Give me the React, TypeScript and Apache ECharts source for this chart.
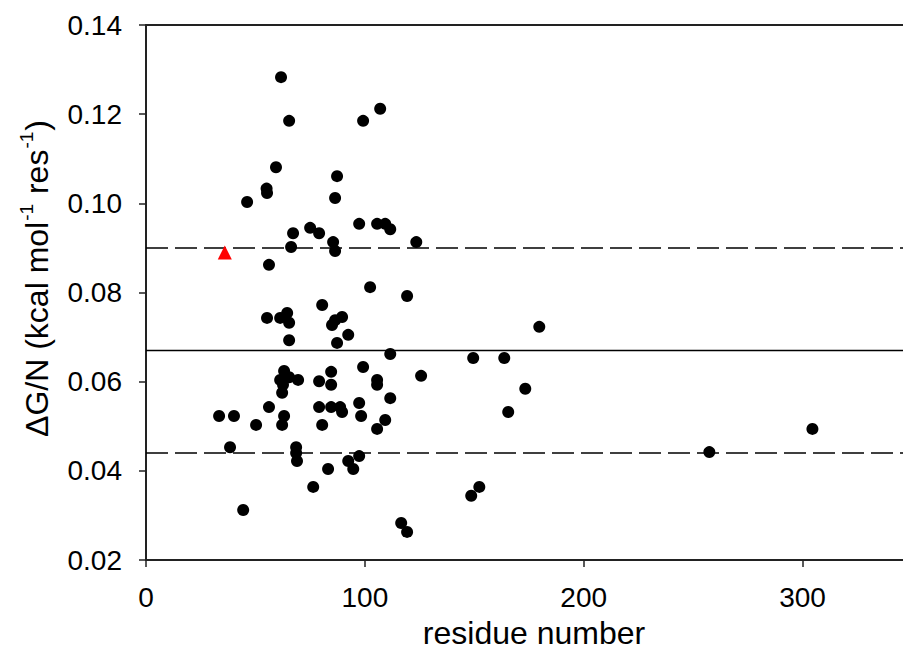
import React, { useEffect, useRef } from "react";
import * as echarts from "echarts";

const residues = [
  61.7, 65.4, 107.0, 99.2, 59.4, 55.1, 55.3, 46.2, 87.3, 86.4,
  97.4, 105.6, 109.3, 111.6, 75.0, 79.1, 67.2, 66.3, 85.5, 86.4,
  123.5, 56.2, 102.4, 119.3, 80.5, 55.3, 61.3, 64.5, 65.4, 89.6,
  86.4, 85.0, 92.4, 65.4, 87.3, 179.7, 111.6, 149.5, 163.7, 125.7,
  99.2, 63.1, 61.3, 65.4, 62.6, 69.5, 62.2, 79.1, 84.6, 84.6,
  105.6, 105.6, 111.6, 97.4, 98.3, 109.3, 105.6, 56.2, 33.4, 40.2,
  50.3, 63.1, 62.2, 79.1, 84.6, 88.7, 89.6, 80.5, 38.4, 68.6,
  68.6, 69.0, 92.4, 97.4, 94.7, 83.2, 76.4, 44.4, 116.6, 119.3,
  173.3, 165.5, 257.4, 304.5, 148.6, 152.3,
];
const dgn = [
  0.1283, 0.1185, 0.1212, 0.1185, 0.1081, 0.1033, 0.1023, 0.1003, 0.1061, 0.1012,
  0.0954, 0.0954, 0.0954, 0.0942, 0.0945, 0.0933, 0.0933, 0.0902, 0.0913, 0.0893,
  0.0913, 0.0862, 0.0812, 0.0792, 0.0772, 0.0743, 0.0743, 0.0754, 0.0732, 0.0745,
  0.0738, 0.0727, 0.0705, 0.0693, 0.0687, 0.0723, 0.0662, 0.0653, 0.0653, 0.0613,
  0.0633, 0.0624, 0.0604, 0.061, 0.0593, 0.0604, 0.0575, 0.0601, 0.0622, 0.0593,
  0.0604, 0.0593, 0.0563, 0.0552, 0.0523, 0.0514, 0.0494, 0.0543, 0.0523, 0.0523,
  0.0503, 0.0523, 0.0503, 0.0543, 0.0543, 0.0543, 0.0532, 0.0503, 0.0453, 0.0453,
  0.044, 0.0422, 0.0422, 0.0433, 0.0404, 0.0404, 0.0364, 0.0312, 0.0283, 0.0263,
  0.0584, 0.0532, 0.0442, 0.0494, 0.0344, 0.0364,
];
const highlightResidues = [36.0];
const highlightDgn = [0.089];
const meanLine = 0.067;
const boundLines = [0.09, 0.044];
const xTicks = [0, 100, 200, 300];
const yTicks = [0.02, 0.04, 0.06, 0.08, 0.1, 0.12, 0.14];

const FONT = "'Liberation Sans', Arial, sans-serif";

export default function App() {
  const ref = useRef<HTMLDivElement>(null);
  useEffect(() => {
    if (!ref.current) return;
    const chart = echarts.init(ref.current, undefined, { renderer: "svg" });
    const xMin = 0;
    const xMax = 350;
    const option: any = {
      animation: false,
      backgroundColor: "#ffffff",
      grid: {
        left: 146,
        top: 25,
        width: 766,
        height: 535,
        containLabel: false,
        outerBoundsMode: "none",
      },
      xAxis: [
        {
          type: "value",
          min: xMin,
          max: xMax,
          interval: 100,
          position: "bottom",
          axisLine: { show: true, lineStyle: { color: "#222", width: 2 } },
          axisTick: { show: true, inside: false, length: 7, lineStyle: { color: "#222", width: 1.5 } },
          axisLabel: {
            color: "#000",
            fontSize: 28,
            fontFamily: FONT,
            margin: 23,
            formatter: (v: number) => (xTicks.includes(v) ? String(v) : ""),
          },
          splitLine: { show: false },
          name: "residue number",
          nameLocation: "middle",
          nameGap: 56,
          nameTextStyle: {
            color: "#000",
            fontSize: 32,
            lineHeight: 34,
            fontFamily: FONT,
            padding: [0, 0, 0, 10],
          },
        },
        {
          type: "value",
          min: xMin,
          max: xMax,
          position: "top",
          axisLine: { show: true, onZero: false, lineStyle: { color: "#222", width: 2 } },
          axisTick: { show: false },
          axisLabel: { show: false },
          splitLine: { show: false },
        },
      ],
      yAxis: {
        type: "value",
        min: 0.02,
        max: 0.14,
        interval: 0.02,
        axisLine: { show: true, onZero: false, lineStyle: { color: "#222", width: 2 } },
        axisTick: { show: true, length: 7, lineStyle: { color: "#222", width: 1.5 } },
        axisLabel: {
          color: "#000",
          fontSize: 28,
          fontFamily: FONT,
          margin: 24,
          formatter: (v: number) => {
            const t = yTicks.find((y) => Math.abs(y - v) < 1e-9);
            return t !== undefined ? t.toFixed(2) : "";
          },
        },
        splitLine: { show: false },
        name: "{a|ΔG/N (kcal mol}{s|-1}{a| res}{s|-1}{a|)}",
        nameLocation: "middle",
        nameRotate: 90,
        nameGap: 93,
        nameTextStyle: {
          color: "#000",
          fontFamily: FONT,
          padding: [0, 0, 0, 28],
          rich: {
            a: { fontSize: 32, fontFamily: FONT, color: "#000", lineHeight: 36, verticalAlign: "bottom" },
            s: { fontSize: 19, fontFamily: FONT, color: "#000", lineHeight: 36, verticalAlign: "top", padding: [0, 1, 13, 1] },
          },
        },
      },
      series: [
        ...boundLines.map((y) => ({
          type: "line",
          xAxisIndex: 0,
          data: [
            [xMin, y],
            [xMax, y],
          ],
          symbol: "none",
          silent: true,
          lineStyle: { color: "#000", width: 1.5, type: [22, 7] },
          z: 1,
        })),
        {
          type: "line",
          xAxisIndex: 0,
          data: [
            [xMin, meanLine],
            [xMax, meanLine],
          ],
          symbol: "none",
          silent: true,
          lineStyle: { color: "#000", width: 1.5, type: "solid" },
          z: 1,
        },
        {
          type: "scatter",
          xAxisIndex: 0,
          data: residues.map((x, i) => [x, dgn[i]]),
          symbol: "circle",
          symbolSize: 12,
          itemStyle: { color: "#000", opacity: 1 },
          z: 3,
        },
        {
          type: "scatter",
          xAxisIndex: 0,
          data: highlightResidues.map((x, i) => [x, highlightDgn[i]]),
          symbol: "triangle",
          symbolSize: 14,
          itemStyle: { color: "#ff0000", opacity: 1 },
          z: 4,
        },
      ],
    };
    chart.setOption(option);
    return () => chart.dispose();
  }, []);
  return (
    <div
      ref={ref}
      style={{ position: "fixed", left: 0, top: 0, width: 903, height: 652, background: "#fff" }}
    />
  );
}
